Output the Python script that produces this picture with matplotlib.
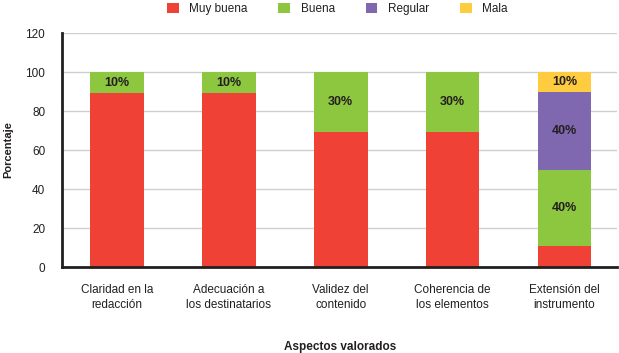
import matplotlib.pyplot as plt
import numpy as np

categories = ["Claridad en la\nredacción", "Adecuación a\nlos destinatarios", "Validez del\ncontenido",
              "Coherencia de\nlos elementos", "Extensión del\ninstrumento"]
series_names = ["Muy buena", "Buena", "Regular", "Mala"]
muy_buena = [89, 89, 69, 69, 11]
buena = [11, 11, 31, 31, 39]
regular = [0, 0, 0, 0, 40]
mala = [0, 0, 0, 0, 10]
# labels printed inside the segments (None = no label)
lbl_muy_buena = [None, None, None, None, None]
lbl_buena = ["10%", "10%", "30%", "30%", "40%"]
lbl_regular = [None, None, None, None, "40%"]
lbl_mala = [None, None, None, None, "10%"]
yticks = [0, 20, 40, 60, 80, 100, 120]

colors = ["#EF4136", "#8DC63F", "#8068B0", "#FFCB3F"]
plt.rcParams['font.family'] = ['Liberation Sans', 'DejaVu Sans']
txt = '#231F20'
fs = 8.5

fig = plt.figure(figsize=(6.19, 3.53), dpi=100)
ax = fig.add_axes([0.100, 0.2436, 0.897, 0.6629])

x = np.arange(len(categories))
bottom = np.zeros(len(categories))
for vals, lbls, col, name in zip([muy_buena, buena, regular, mala],
                                  [lbl_muy_buena, lbl_buena, lbl_regular, lbl_mala],
                                  colors, series_names):
    vals = np.array(vals, dtype=float)
    ax.bar(x, vals, 0.48, bottom=bottom, color=col, label=name, zorder=3)
    for xi, v, b, t in zip(x, vals, bottom, lbls):
        if t is not None and v > 0:
            ax.text(xi, b + v / 2, t, ha='center', va='center', fontsize=9,
                    fontweight='bold', color=txt, zorder=4)
    bottom += vals

ax.set_xlim(-0.49, 4.47)
ax.set_ylim(0, 120)
ax.set_yticks(yticks)
ax.set_xticks(x)
ax.set_xticklabels(categories, fontsize=fs, color=txt, linespacing=1.35)
ax.tick_params(axis='both', length=0, labelsize=fs, colors=txt)
ax.tick_params(axis='x', pad=12)
ax.tick_params(axis='y', pad=12)
ax.grid(axis='y', color='#CFCFCF', linewidth=1, zorder=0)
for s in ['top', 'right']:
    ax.spines[s].set_visible(False)
for s in ['left', 'bottom']:
    ax.spines[s].set_color(txt)
    ax.spines[s].set_linewidth(2)
    ax.spines[s].set_zorder(5)

fig.text(0.014, 0.575, "Porcentaje", rotation=90, ha='center', va='center', fontsize=8,
         fontweight='bold', color=txt)
fig.text(0.55, 0.0, "Aspectos valorados", ha='center', va='bottom', fontsize=8.5,
         fontweight='bold', color=txt)

fig.legend(loc='upper center', bbox_to_anchor=(0.545, 1.022), ncol=4, frameon=False,
           fontsize=fs, handlelength=1.0, handleheight=1.0, columnspacing=2.6,
           handletextpad=0.9, labelcolor=txt)

fig.savefig('out.png', dpi=100)
